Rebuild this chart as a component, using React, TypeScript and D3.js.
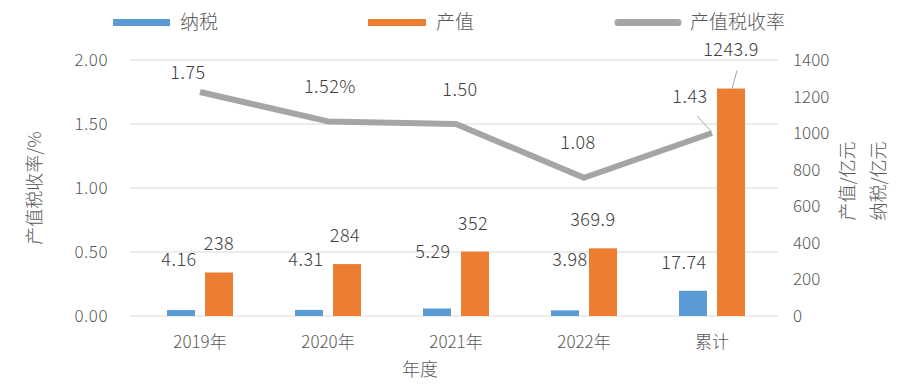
import React from "react";
import * as d3 from "d3";

const WIDTH = 900;
const HEIGHT = 390;

const categories = ["2019年", "2020年", "2021年", "2022年", "累计"];
const taxValues = [4.16, 4.31, 5.29, 3.98, 17.74];
const outputValues = [238, 284, 352, 369.9, 1243.9];
const rateValues = [1.75, 1.52, 1.5, 1.08, 1.43];
const rateLabels = ["1.75", "1.52%", "1.50", "1.08", "1.43"];
const leftTicks = [0, 0.5, 1, 1.5, 2];
const rightTicks = [0, 200, 400, 600, 800, 1000, 1200, 1400];

// hand-placed label nudges [dx, dy] like in the original
const taxLabelShift = [[-2, -50], [-3, -50], [-4, -56], [5, -50], [-9, -28]];
const outputLabelShift = [[0, -28], [-2, -28], [-2, -28], [-10, -28], [0, -39]];
const rateLabelShift = [[-12, -19], [2, -34], [4, -34], [-6, -35], [-22, -36]];

const FONT = "'Noto Sans CJK SC', 'Noto Sans', sans-serif";
const BLUE = "#5B9BD5";
const ORANGE = "#ED7D31";
const GRAY = "#A5A5A5";

const margin = { left: 136, right: 124, top: 60, bottom: 74 };

export default function App() {
  const x = d3
    .scaleBand()
    .domain(categories)
    .range([margin.left, WIDTH - margin.right]);
  const yLeft = d3.scaleLinear().domain([0, 2]).range([HEIGHT - margin.bottom, margin.top]);
  const yRight = d3.scaleLinear().domain([0, 1400]).range([HEIGHT - margin.bottom, margin.top]);
  // tax bars were drawn on their own (unlabelled) scale
  const yTax = d3.scaleLinear().domain([0, 180]).range([HEIGHT - margin.bottom, margin.top]);

  const barW = 28;
  const gap = 10;
  const cx = (c: string) => (x(c) as number) + x.bandwidth() / 2;
  const taxX = (c: string) => cx(c) - gap / 2 - barW;
  const outX = (c: string) => cx(c) + gap / 2;

  const line = d3
    .line<number>()
    .x((d, i) => cx(categories[i]))
    .y((d) => yLeft(d));

  const base = yLeft(0);

  return (
    <svg
      width={WIDTH}
      height={HEIGHT}
      style={{ position: "absolute", left: 0, top: 0, background: "#fff" }}
      fontFamily={FONT}
      fontWeight={300}
    >
      {/* legend */}
      <g fontSize={19} fill="#595959">
        <rect x={113} y={19} width={57} height={7} fill={BLUE} />
        <text x={180} y={29}>纳税</text>
        <rect x={368} y={19} width={58} height={7} fill={ORANGE} />
        <text x={436} y={29}>产值</text>
        <line x1={618} x2={678} y1={22.5} y2={22.5} stroke={GRAY} strokeWidth={7} strokeLinecap="round" />
        <text x={690} y={29}>产值税收率</text>
      </g>

      {/* gridlines */}
      {leftTicks.map((t) => (
        <line key={t} x1={130} x2={778} y1={yLeft(t)} y2={yLeft(t)} stroke="#D9D9D9" strokeWidth={1.2} />
      ))}

      {/* left axis */}
      <g fontSize={17} fill="#595959" textAnchor="end" letterSpacing={0.5}>
        {leftTicks.map((t) => (
          <text key={t} x={108} y={yLeft(t) + 6}>{t.toFixed(2)}</text>
        ))}
      </g>
      <text
        transform={`translate(41,${(margin.top + base) / 2}) rotate(-90)`}
        textAnchor="middle"
        fontSize={18}
        fill="#595959"
      >
        产值税收率/%
      </text>

      {/* right axis */}
      <g fontSize={17} fill="#595959">
        {rightTicks.map((t) => (
          <text key={t} x={793} y={yRight(t) + 6}>{t}</text>
        ))}
      </g>
      <g fontSize={18} fill="#595959" textAnchor="middle">
        <text transform={`translate(854,181) rotate(-90)`}>产值/亿元</text>
        <text transform={`translate(885,181) rotate(-90)`}>纳税/亿元</text>
      </g>

      {/* x axis */}
      <g fontSize={17} fill="#595959" textAnchor="middle">
        {categories.map((c) => (
          <text key={c} x={cx(c)} y={348}>{c}</text>
        ))}
      </g>
      <text x={420} y={376} textAnchor="middle" fontSize={18} fill="#595959">
        年度
      </text>

      {/* bars */}
      {categories.map((c, i) => (
        <g key={c}>
          <rect x={taxX(c)} y={yTax(taxValues[i])} width={barW} height={base - yTax(taxValues[i])} fill={BLUE} />
          <rect x={outX(c)} y={yRight(outputValues[i])} width={barW} height={base - yRight(outputValues[i])} fill={ORANGE} />
        </g>
      ))}

      {/* rate line */}
      <path d={line(rateValues) as string} fill="none" stroke={GRAY} strokeWidth={6} strokeLinejoin="round" />

      {/* leader lines */}
      <line
        x1={outX("累计") + barW / 2 + 6}
        y1={yRight(outputValues[4]) - 18}
        x2={outX("累计") + barW / 2 + 1}
        y2={yRight(outputValues[4])}
        stroke="#A6A6A6"
        strokeWidth={1}
      />
      <line
        x1={cx("累计") - 15}
        y1={yLeft(rateValues[4]) - 17}
        x2={cx("累计") - 1}
        y2={yLeft(rateValues[4]) - 2}
        stroke="#A6A6A6"
        strokeWidth={1}
      />

      {/* data labels */}
      <g fontSize={18} fill="#404040" textAnchor="middle" letterSpacing={0.5}>
        {categories.map((c, i) => (
          <g key={c}>
            <text x={taxX(c) + barW / 2 + taxLabelShift[i][0]} y={yTax(taxValues[i]) + taxLabelShift[i][1] + 6}>
              {taxValues[i].toFixed(2)}
            </text>
            <text x={outX(c) + barW / 2 + outputLabelShift[i][0]} y={yRight(outputValues[i]) + outputLabelShift[i][1] + 6}>
              {String(outputValues[i])}
            </text>
            <text x={cx(c) + rateLabelShift[i][0]} y={yLeft(rateValues[i]) + rateLabelShift[i][1] + 6}>
              {rateLabels[i]}
            </text>
          </g>
        ))}
      </g>
    </svg>
  );
}
